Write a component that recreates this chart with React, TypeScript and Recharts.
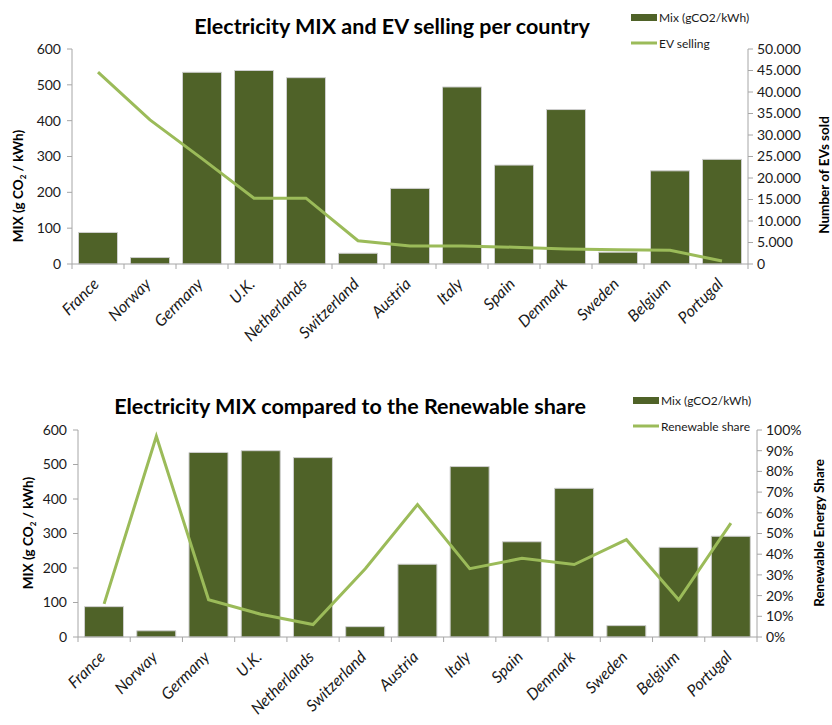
import React from 'react';
import { ComposedChart, Bar, Line, XAxis, YAxis, Legend } from 'recharts';

const countries = ['France', 'Norway', 'Germany', 'U.K.', 'Netherlands', 'Switzerland', 'Austria', 'Italy', 'Spain', 'Denmark', 'Sweden', 'Belgium', 'Portugal'];
const mixValues = [88, 18, 535, 540, 520, 30, 211, 494, 276, 431, 33, 260, 292];
const evSold = [44600, 33500, 24500, 15300, 15300, 5400, 4200, 4200, 3900, 3500, 3300, 3200, 700];
const renewableShare = [16, 97, 18, 11, 6, 33, 64, 33, 38, 35, 47, 18, 55];

const mixTicks = [0, 100, 200, 300, 400, 500, 600];
const evTicks = [0, 5000, 10000, 15000, 20000, 25000, 30000, 35000, 40000, 45000, 50000];
const shareTicks = [0, 10, 20, 30, 40, 50, 60, 70, 80, 90, 100];

const data = countries.map((c, i) => ({ country: c, mix: mixValues[i], ev: evSold[i], share: renewableShare[i] }));

const FONT = 'Lato, "Open Sans", sans-serif';
const BAR = '#4f6228';
const LINE = '#9bbb59';
const AXIS = '#a6a6a6';
const TXT = '#1a1a1a';

const fmtEv = (v: number) => (v === 0 ? '0' : (v / 1000).toFixed(3));
const fmtPct = (v: number) => `${v}%`;

function makeCatTick(band: number, count: number) {
  return (props: any) => {
    const { x, y, payload, index } = props;
    return (
      <g>
        <line x1={x - band / 2} y1={y} x2={x - band / 2} y2={y + 5} stroke={AXIS} strokeWidth={1} />
        {index === count - 1 && (
          <line x1={x + band / 2} y1={y} x2={x + band / 2} y2={y + 5} stroke={AXIS} strokeWidth={1} />
        )}
        <text
          transform={`translate(${x + 2},${y + 21}) rotate(-45)`}
          textAnchor="end"
          fontStyle="italic"
          fontSize={16}
          fontFamily={FONT}
          fill={TXT}
        >
          {payload.value}
        </text>
      </g>
    );
  };
}

function VLabel({ x, y, children }: { x: number; y: number; children: React.ReactNode }) {
  return (
    <text
      transform={`translate(${x},${y}) rotate(-90)`}
      textAnchor="middle"
      fontSize={13.5}
      fontWeight="bold"
      fontFamily={FONT}
      fill="#000"
    >
      {children}
    </text>
  );
}

function MixLabel({ x, y }: { x: number; y: number }) {
  return (
    <VLabel x={x} y={y}>
      MIX (g CO<tspan fontSize={8} dy={3}>2</tspan>
      <tspan dy={-3}> / kWh)</tspan>
    </VLabel>
  );
}

function makeLegend(lineName: string, top: number, left: number) {
  return () => (
    <svg style={{ position: 'absolute', left: 0, top: 0, overflow: 'visible' }} width={832} height={60}>
      <rect x={left} y={top - 3} width={26} height={7} fill={BAR} />
      <text x={left + 28} y={top + 5} fontSize={12} fontFamily={FONT} fill={TXT}>Mix (gCO2/kWh)</text>
      <line x1={left} y1={top + 26} x2={left + 26} y2={top + 26} stroke={LINE} strokeWidth={3} />
      <text x={left + 28} y={top + 31} fontSize={12} fontFamily={FONT} fill={TXT}>{lineName}</text>
    </svg>
  );
}

const tickStyle = { fontSize: 14, fontFamily: FONT, fill: TXT };

export default function App() {
  const band1 = 676 / 13;
  const band2 = 679 / 13;
  return (
    <div style={{ position: 'absolute', left: 0, top: 0, width: 832, height: 725, background: '#fff', fontFamily: FONT }}>
      <svg style={{ position: 'absolute', left: 0, top: 0 }} width={832} height={725}>
        <text x={392} y={34} textAnchor="middle" fontSize={21.5} fontWeight="bold" fontFamily={FONT} fill="#000">
          Electricity MIX and EV selling per country
        </text>
        <text x={350} y={414} textAnchor="middle" fontSize={21.5} fontWeight="bold" fontFamily={FONT} fill="#000">
          Electricity MIX compared to the Renewable share
        </text>
      </svg>

      <div style={{ position: 'absolute', left: 0, top: 0 }}>
        <ComposedChart width={832} height={360} data={data} margin={{ top: 49, right: 0, bottom: 0, left: 0 }} barCategoryGap="12.5%">
          <XAxis
            dataKey="country"
            height={96}
            interval={0}
            tickLine={false}
            tickSize={0}
            tickMargin={0}
            axisLine={{ stroke: AXIS }}
            tick={makeCatTick(band1, countries.length)}
          />
          <YAxis
            yAxisId="left"
            width={72}
            domain={[0, 600]}
            ticks={mixTicks}
            interval={0}
            tick={tickStyle}
            tickSize={5}
            tickMargin={6}
            tickLine={{ stroke: AXIS }}
            axisLine={{ stroke: AXIS }}
            label={{ content: () => <MixLabel x={23} y={186} /> }}
          />
          <YAxis
            yAxisId="right"
            orientation="right"
            width={84}
            domain={[0, 50000]}
            ticks={evTicks}
            interval={0}
            tickFormatter={fmtEv}
            tick={tickStyle}
            tickSize={5}
            tickMargin={4}
            tickLine={{ stroke: AXIS }}
            axisLine={{ stroke: AXIS }}
            label={{ content: () => <VLabel x={829} y={175}>Number of EVs sold</VLabel> }}
          />
          <Legend
            verticalAlign="top"
            wrapperStyle={{ position: 'absolute', left: 0, top: 0, width: 0, height: 0, overflow: 'visible' }}
            content={makeLegend('EV selling', 17, 631)}
          />
          <Bar yAxisId="left" dataKey="mix" name="Mix (gCO2/kWh)" fill={BAR} stroke="#cfcfcf" strokeWidth={1} isAnimationActive={false} />
          <Line yAxisId="right" dataKey="ev" name="EV selling" type="linear" stroke={LINE} strokeWidth={3} dot={false} activeDot={false} isAnimationActive={false} />
        </ComposedChart>
      </div>

      <div style={{ position: 'absolute', left: 0, top: 360 }}>
        <ComposedChart width={832} height={365} data={data} margin={{ top: 70, right: 0, bottom: 0, left: 0 }} barCategoryGap="12.5%">
          <XAxis
            dataKey="country"
            height={88}
            interval={0}
            tickLine={false}
            tickSize={0}
            tickMargin={0}
            axisLine={{ stroke: AXIS }}
            tick={makeCatTick(band2, countries.length)}
          />
          <YAxis
            yAxisId="left"
            width={78}
            domain={[0, 600]}
            ticks={mixTicks}
            interval={0}
            tick={tickStyle}
            tickSize={5}
            tickMargin={6}
            tickLine={{ stroke: AXIS }}
            axisLine={{ stroke: AXIS }}
            label={{ content: () => <MixLabel x={33} y={173} /> }}
          />
          <YAxis
            yAxisId="right"
            orientation="right"
            width={75}
            domain={[0, 100]}
            ticks={shareTicks}
            interval={0}
            tickFormatter={fmtPct}
            tick={tickStyle}
            tickSize={5}
            tickMargin={4}
            tickLine={{ stroke: AXIS }}
            axisLine={{ stroke: AXIS }}
            label={{ content: () => <VLabel x={824} y={173}>Renewable Energy Share</VLabel> }}
          />
          <Legend
            verticalAlign="top"
            wrapperStyle={{ position: 'absolute', left: 0, top: 0, width: 0, height: 0, overflow: 'visible' }}
            content={makeLegend('Renewable share', 40, 633)}
          />
          <Bar yAxisId="left" dataKey="mix" name="Mix (gCO2/kWh)" fill={BAR} stroke="#cfcfcf" strokeWidth={1} isAnimationActive={false} />
          <Line yAxisId="right" dataKey="share" name="Renewable share" type="linear" stroke={LINE} strokeWidth={3} dot={false} activeDot={false} isAnimationActive={false} />
        </ComposedChart>
      </div>
    </div>
  );
}
